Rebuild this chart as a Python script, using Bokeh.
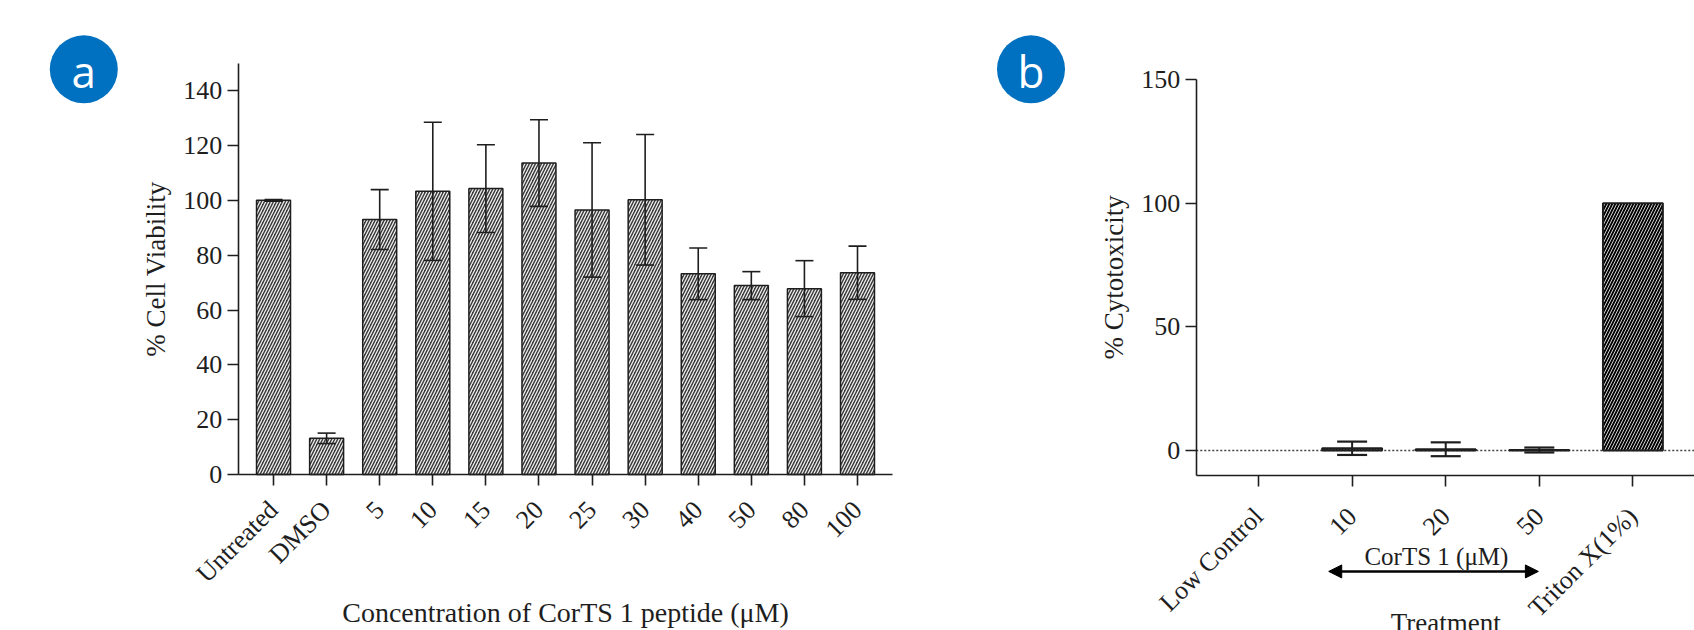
import math
from bokeh.plotting import figure
from bokeh.models import (ColumnDataSource, Range1d, FixedTicker, Whisker,
                          TeeHead, Label, Arrow, NormalHead)
from bokeh.layouts import row
from bokeh.embed import file_html
from bokeh.resources import INLINE
from bokeh.core.properties import value

# ---------------- data: panel a ----------------
cats_a = ["Untreated", "DMSO", "5", "10", "15", "20", "25", "30", "40", "50", "80", "100"]
viability = [100.0, 13.2, 93.0, 103.3, 104.3, 113.6, 96.5, 100.2, 73.2, 68.9, 67.8, 73.6]
viability_err = [0.3, 1.9, 10.9, 25.2, 16.0, 15.8, 24.5, 23.8, 9.4, 5.1, 10.2, 9.7]
yticks_a = [0, 20, 40, 60, 80, 100, 120, 140]

# ---------------- data: panel b ----------------
cats_b = ["Low Control", "10", "20", "50", "Triton X(1%)"]
cytotox = [0.0, 0.9, 0.5, 0.2, 100.0]
cytotox_err = [0.0, 2.7, 2.8, 1.0, 0.0]
yticks_b = [0, 50, 100, 150]
baseline_b = 0.0

SERIF = "Liberation Serif"
INK = "#1e1e1e"
BLUE = "#0070c0"
H = 630
PAD = 0.665  # category padding at the ends of the x axis


def frame_only(w, xr, yr):
    p = figure(frame_width=w, frame_height=H, x_range=xr, y_range=yr,
               output_backend="svg", toolbar_location=None,
               min_border_left=0, min_border_right=0, min_border_top=0, min_border_bottom=0)
    p.xgrid.visible = False
    p.ygrid.visible = False
    p.outline_line_color = None
    return p


def style_axes(p, cats, yticks, ybounds, xloc, xstand, xend):
    n = len(cats)
    for ax in (p.xaxis[0], p.yaxis[0]):
        ax.axis_line_color = INK
        ax.axis_line_width = 1.6
        ax.major_tick_line_color = INK
        ax.major_tick_line_width = 1.6
        ax.major_tick_in = 0
        ax.major_tick_out = 11
        ax.minor_tick_line_color = None
        ax.major_label_text_font = SERIF
        ax.major_label_text_font_size = "26px"
        ax.major_label_text_color = INK
        ax.axis_label_text_font = SERIF
        ax.axis_label_text_font_size = "27px"
        ax.axis_label_text_font_style = "normal"
        ax.axis_label_text_color = INK
    ya, xa = p.yaxis[0], p.xaxis[0]
    ya.ticker = FixedTicker(ticks=yticks)
    ya.bounds = ybounds
    ya.fixed_location = -PAD
    ya.major_label_standoff = 5
    ya.axis_label_standoff = 10
    xa.ticker = FixedTicker(ticks=list(range(n)))
    xa.major_label_overrides = {i: c for i, c in enumerate(cats)}
    xa.bounds = (-PAD, xend)
    xa.fixed_location = xloc
    xa.major_label_orientation = math.pi / 4
    xa.major_label_standoff = xstand


def badge(letter, cx, cy, w):
    b = frame_only(w, Range1d(0, w), Range1d(H, 0))
    b.axis.visible = False
    b.scatter([cx], [cy], size=68, fill_color=BLUE, line_color=None)
    b.text([cx], [cy + 2], text=[letter], text_align="center", text_baseline="middle",
           text_font=value("Open Sans"), text_font_size="44px", text_color="white")
    return b


# ---------------- panel a ----------------
xa_pos = list(range(len(cats_a)))
src_a = ColumnDataSource(dict(
    x=xa_pos, val=viability,
    upper=[v + e for v, e in zip(viability, viability_err)],
    lower=[v - e for v, e in zip(viability, viability_err)],
))
pa = frame_only(830, Range1d(-2.694, 12.940), Range1d(-56.9, 172.9))
pa.vbar(x="x", top="val", bottom=0, width=0.64, source=src_a,
        fill_color="#383838", line_color=INK, line_width=1.5,
        hatch_pattern="/", hatch_color="#eeeeee", hatch_scale=6, hatch_weight=1.3)
pa.add_layout(Whisker(base="x", upper="upper", lower="lower", source=src_a, level="overlay",
                      line_color=INK, line_width=1.6,
                      upper_head=TeeHead(size=18, line_color=INK, line_width=1.6),
                      lower_head=TeeHead(size=18, line_color=INK, line_width=1.6)))
style_axes(pa, cats_a, yticks_a, (0, 150), 0, 20, len(cats_a) - 1 + PAD)
pa.yaxis.axis_label = "% Cell Viability"
pa.add_layout(Label(x=(len(cats_a) - 1) / 2, y=-50.3,
                    text="Concentration of CorTS 1 peptide (\u03bcM)",
                    text_align="center", text_baseline="alphabetic",
                    text_font=SERIF, text_font_size="28px", text_color=INK))

# ---------------- panel b ----------------
xb_pos = list(range(len(cats_b)))
src_b = ColumnDataSource(dict(
    x=xb_pos, val=cytotox,
    line=[INK if v != 0 else None for v in cytotox],
))
keep = [i for i, e in enumerate(cytotox_err) if e > 0]
src_bw = ColumnDataSource(dict(
    x=[xb_pos[i] for i in keep],
    upper=[cytotox[i] + cytotox_err[i] for i in keep],
    lower=[cytotox[i] - cytotox_err[i] for i in keep],
))
xb_end = 4.658
pb = frame_only(614, Range1d(-1.902, xb_end), Range1d(-72.8, 182.0))
# dotted reference line at 0 %, from the y axis to the right edge
pb.segment(x0=[-PAD], y0=[baseline_b], x1=[xb_end], y1=[baseline_b],
           line_color="#444444", line_width=1.6, line_dash="2 2")
pb.vbar(x="x", top="val", bottom=0, width=0.64, source=src_b,
        fill_color="#050505", line_color="line", line_width=2,
        hatch_pattern="/", hatch_color="#e4e4e4", hatch_scale=6, hatch_weight=0.9)
pb.add_layout(Whisker(base="x", upper="upper", lower="lower", source=src_bw, level="overlay",
                      line_color=INK, line_width=2,
                      upper_head=TeeHead(size=30, line_color=INK, line_width=2.2),
                      lower_head=TeeHead(size=30, line_color=INK, line_width=2.2)))
style_axes(pb, cats_b, yticks_b, (-10, 150), -10, 26, xb_end)
pb.yaxis.axis_label = "% Cytotoxicity"

# group annotation for the CorTS 1 concentrations
i10 = cats_b.index("10")
i50 = cats_b.index("50")
pb.add_layout(Arrow(x_start=i10 - 0.25, y_start=-48.9, x_end=i50 - 0.01, y_end=-48.9,
                    line_color="black", line_width=2.5,
                    start=NormalHead(size=13, fill_color="black", line_color="black"),
                    end=NormalHead(size=13, fill_color="black", line_color="black")))
pb.add_layout(Label(x=(i10 + i50) / 2 - 0.1, y=-42.9, text="CorTS 1 (\u03bcM)",
                    text_align="center", text_baseline="alphabetic",
                    text_font=SERIF, text_font_size="25px", text_color=INK))
pb.add_layout(Label(x=(len(cats_b) - 1) / 2, y=-69.9, text="Treatment",
                    text_align="center", text_baseline="alphabetic",
                    text_font=SERIF, text_font_size="27px", text_color=INK))

layout = row(badge("a", 83.3, 68.8, 130), pa, badge("b", 70.5, 68.8, 120), pb, spacing=0)

open("out.html", "w").write(file_html(layout, INLINE))
